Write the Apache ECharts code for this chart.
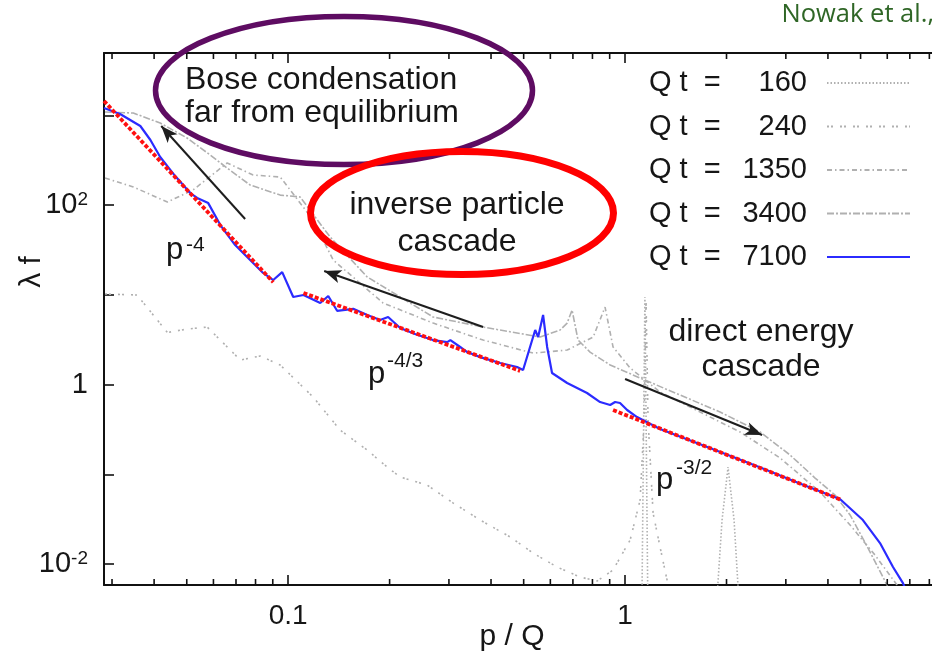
<!DOCTYPE html>
<html>
<head>
<meta charset="utf-8">
<script src="https://cdn.jsdelivr.net/npm/echarts@6/dist/echarts.min.js"></script>
<style>
  html, body { margin: 0; padding: 0; background: #fff; overflow: hidden; width: 932px; height: 657px; }
  /* the frame runs on past the right edge of the page, so the canvas is wider than the window */
  #chart { width: 1000px; height: 657px; }
</style>
</head>
<body>
<div id="chart"></div>
<script>
// Occupation-number spectra  λ f(p/Q)  at several times Qt  ([p/Q, λf] pairs)
const qt160 = [[1.12,0.002],[1.145,9.4],[1.17,0.002],[1.85,0.002],[1.94,0.0309],[2.021,0.1205],[2.106,0.0309],[2.2,0.002]];
const qt240 = [[0.0286,10.2],[0.0356,9.94],[0.0438,3.8],[0.0501,4.15],[0.0575,4.37],[0.0721,1.875],[0.0826,2.08],[0.0947,1.65],[0.1186,0.726],[0.1426,0.311],[0.1716,0.186],[0.1966,0.1205],[0.215,0.0931],[0.2585,0.0759],[0.309,0.0478],[0.3715,0.0309],[0.456,0.02],[0.533,0.01327],[0.628,0.00927],[0.735,0.00716],[0.826,0.00647],[0.921,0.00857],[1.035,0.0185],[1.108,0.0516],[1.139,0.402],[1.154,8.74],[1.17,0.402],[1.211,0.037],[1.27,0.01546],[1.332,0.00663],[1.41,0.003]];
const qt1350 = [[0.0286,200],[0.0347,159],[0.0438,108],[0.0522,147],[0.0659,294],[0.0787,216],[0.0947,205],[0.1014,147],[0.1186,67.9],[0.136,24.4],[0.1913,8.09],[0.2693,4.84],[0.379,3.13],[0.533,2.24],[0.673,2.42],[0.804,3.38],[0.872,7.3],[0.921,2.62],[1.035,1.527],[1.27,0.825],[1.67,0.494],[2.194,0.296],[2.884,0.152],[3.79,0.0634],[4.653,0.0272],[5.518,0.01259],[6.414,0.00584],[6.8,0.003]];
const qt3400 = [[0.0286,1087],[0.0347,1059],[0.0417,820],[0.0501,558],[0.0587,361],[0.0659,258],[0.0771,167],[0.0947,129],[0.1085,123],[0.1332,44],[0.1716,15.8],[0.215,9.44],[0.2693,5.65],[0.379,4.37],[0.478,3.75],[0.5597,3.38],[0.6414,4.05],[0.673,4.84],[0.696,6.76],[0.725,3.13],[0.787,2.3],[0.903,1.65],[1.108,1.181],[1.456,0.764],[1.914,0.494],[2.516,0.296],[3.087,0.164],[3.664,0.0908],[4.2,0.0587],[4.653,0.0352],[5.261,0.01507],[5.99,0.00584],[6.3,0.003]];
const qt7100 = [[0.0284,1205],[0.0317,1033],[0.0364,759],[0.039,530],[0.0417,343],[0.0462,210],[0.0512,136],[0.0537,120],[0.0579,105],[0.0629,59.8],[0.0696,35.8],[0.0771,24.4],[0.0837,17.9],[0.0903,14.6],[0.096,17.9],[0.1035,9.44],[0.111,9.94],[0.1245,8.09],[0.1315,9.68],[0.1397,6.63],[0.156,6.98],[0.1716,5.95],[0.1875,5.23],[0.198,5.65],[0.215,4.26],[0.238,3.65],[0.269,3.13],[0.2965,2.97],[0.303,3.13],[0.324,2.62],[0.34,2.3],[0.3715,2.02],[0.4256,1.736],[0.478,1.567],[0.498,1.45],[0.541,4.05],[0.552,3.38],[0.571,5.95],[0.587,2.62],[0.607,1.343],[0.673,1.04],[0.771,0.804],[0.843,0.638],[0.903,0.591],[0.934,0.638],[0.966,0.622],[1.014,0.52],[1.085,0.434],[1.27,0.319],[1.67,0.216],[2.52,0.119],[3.3,0.0788],[4.35,0.0527],[5.08,0.0309],[5.71,0.01713],[6.24,0.00927],[6.68,0.00614],[7.0,0.004]];

// Power-law fits (end points)
const fitP4  = [[0.0284,1442],[0.0903,13.8]];
const fitP43 = [[0.111,10.46],[0.488,1.42]];
const fitP32 = [[0.921,0.52],[4.40,0.0516]];

// Arrows: [tail, head] in (p/Q, λf)
const arrows = [
  [[0.0745,69.8],[0.042,759]],
  [[0.379,4.37],[0.1279,18.4]],
  [[1.0,1.152],[2.551,0.2738]]
];

const seriesNames = ['160','240','1350','3400','7100'];

// Axes
const xRange = [0.0284, 10];
const yRange = [0.00584, 4940];
const xTickValues = [0.1, 1];
const xTickLabels = ['0.1', '1'];
const yTickValues = [0.01, 1, 100];
const yTickLabels = ['10{sup|-2}', '1', '10{sup|2}'];
const xMinorTicks = [0.03,0.04,0.05,0.06,0.07,0.08,0.09,0.2,0.3,0.4,0.5,0.6,0.7,0.8,0.9,2,3,4,5,6,7,8,9];

const FONT = '"Liberation Sans", Arial, Helvetica, sans-serif';
const INK = '#161616';
const GRAY = '#b0b0b0';

function tickFormatter(values, labels) {
  return function (v) {
    for (let i = 0; i < values.length; i++) {
      if (Math.abs(Math.log10(v) - Math.log10(values[i])) < 1e-6) return labels[i];
    }
    return '';
  };
}

const axisLineStyle = { lineStyle: { color: '#111', width: 2 } };
const majorTick = { show: true, inside: true, length: 10, lineStyle: { color: '#111', width: 1.6 } };
const labelRich = { sup: { fontSize: 19, fontFamily: FONT, color: INK, verticalAlign: 'top', lineHeight: 19 } };

function grayLine(name, data, dash) {
  return {
    name, type: 'line', data, showSymbol: false, symbol: 'none', clip: true,
    lineStyle: { color: GRAY, width: 1.6, type: dash }, itemStyle: { color: GRAY },
    z: 2, silent: true
  };
}
function fitLine(data, extra) {
  return Object.assign({
    name: 'fit', type: 'line', data, showSymbol: false, symbol: 'none', clip: true,
    lineStyle: { color: '#ff1010', width: 3.8, type: [4, 2] }, z: 4, silent: true
  }, extra || {});
}

const chart = echarts.init(document.getElementById('chart'), null, { renderer: 'canvas' });

chart.setOption({
  animation: false,
  backgroundColor: '#fff',
  grid: { left: 104, top: 53, right: 38, bottom: 72 },
  xAxis: [
    {
      type: 'log', logBase: 10, min: xRange[0], max: xRange[1], position: 'bottom',
      axisLine: axisLineStyle, axisTick: majorTick, splitLine: { show: false }, minorTick: { show: false },
      axisLabel: { formatter: tickFormatter(xTickValues, xTickLabels), fontSize: 28, fontFamily: FONT, color: INK, margin: 17 }
    },
    {
      type: 'log', logBase: 10, min: xRange[0], max: xRange[1], position: 'top',
      axisLine: axisLineStyle, axisTick: majorTick, splitLine: { show: false }, axisLabel: { show: false }
    }
  ],
  yAxis: [
    {
      type: 'log', logBase: 10, min: yRange[0], max: yRange[1], position: 'left',
      axisLine: axisLineStyle, axisTick: majorTick, splitLine: { show: false },
      axisLabel: { formatter: tickFormatter(yTickValues, yTickLabels), fontSize: 29, fontFamily: FONT, color: INK, margin: 16, rich: labelRich }
    },
    {
      type: 'log', logBase: 10, min: yRange[0], max: yRange[1], position: 'right',
      axisLine: axisLineStyle, axisTick: majorTick, splitLine: { show: false }, axisLabel: { show: false }
    }
  ],
  legend: {
    data: seriesNames,
    orient: 'vertical', align: 'right', left: 649, top: 66, padding: 0,
    itemWidth: 83, itemHeight: 14, itemGap: 9.5,
    selectedMode: false,
    itemStyle: { opacity: 0 },
    formatter: name => '{a|Q t  =}{b|' + name + '}{c|}',
    textStyle: {
      fontSize: 29, fontFamily: FONT, color: INK, lineHeight: 34,
      rich: {
        a: { fontSize: 29, fontFamily: FONT, color: INK, width: 76, align: 'left', lineHeight: 34 },
        b: { fontSize: 29, fontFamily: FONT, color: INK, width: 82, align: 'right', lineHeight: 34 },
        c: { width: 15 }
      }
    }
  },
  series: [
    grayLine('160', qt160, [1.5, 2]),
    grayLine('240', qt240, [2, 2, 2, 7]),
    grayLine('1350', qt1350, [5, 3, 1.5, 3]),
    grayLine('3400', qt3400, [7, 2, 2, 2]),
    {
      name: '7100', type: 'line', data: qt7100, showSymbol: false, symbol: 'none', clip: true,
      lineStyle: { color: '#2b2bff', width: 2.2 }, itemStyle: { color: '#2b2bff' }, z: 3, silent: true
    },
    fitLine(fitP4, {
      markLine: {
        silent: true, symbol: ['none', 'arrow'], symbolSize: [10, 17],
        label: { show: false },
        lineStyle: { color: '#1e1e1e', width: 2, type: 'solid' },
        data: arrows.map(a => [{ coord: a[0] }, { coord: a[1] }])
      }
    }),
    fitLine(fitP43),
    fitLine(fitP32),
    {
      // minor ticks of the logarithmic p/Q axis (bottom and top)
      type: 'custom', silent: true, clip: false, z: 6,
      data: xMinorTicks.map(v => [v, yRange[0]]),
      renderItem: function (params, api) {
        const x = api.coord([api.value(0), yRange[0]])[0];
        const cs = params.coordSys;
        const st = { stroke: '#111', lineWidth: 1.6 };
        return {
          type: 'group', children: [
            { type: 'line', shape: { x1: x, y1: cs.y + cs.height, x2: x, y2: cs.y + cs.height - 6 }, style: st },
            { type: 'line', shape: { x1: x, y1: cs.y, x2: x, y2: cs.y + 6 }, style: st }
          ]
        };
      }
    }
  ],
  graphic: {
    elements: [
      { type: 'text', x: 934, y: 15, z: 20, style: { text: 'Nowak et al.,', fontSize: 25.5, fontFamily: '"Open Sans", Lato, sans-serif', fill: '#2f6626', textAlign: 'right', textVerticalAlign: 'middle' } },
      { type: 'ellipse', z: 20, shape: { cx: 344, cy: 90.5, rx: 188.5, ry: 74 }, style: { fill: 'none', stroke: '#5e0c62', lineWidth: 5.5 } },
      { type: 'ellipse', z: 20, shape: { cx: 462, cy: 213, rx: 151.5, ry: 61.5 }, style: { fill: 'none', stroke: '#ff0000', lineWidth: 7 } },
      { type: 'text', x: 185, y: 97, z: 21, style: { text: 'Bose condensation\nfar from equilibrium', fontSize: 32, lineHeight: 33, fontFamily: FONT, fill: INK, textAlign: 'left', textVerticalAlign: 'middle' } },
      { type: 'text', x: 457, y: 224, z: 21, style: { text: 'inverse particle\ncascade', fontSize: 32, lineHeight: 37, fontFamily: FONT, fill: INK, textAlign: 'center', textVerticalAlign: 'middle' } },
      { type: 'text', x: 761, y: 350, z: 21, style: { text: 'direct energy\ncascade', fontSize: 32, lineHeight: 35, fontFamily: FONT, fill: INK, textAlign: 'center', textVerticalAlign: 'middle' } },
      { type: 'text', x: 166, y: 250, z: 21, style: { text: 'p', fontSize: 31, fontFamily: FONT, fill: INK, textVerticalAlign: 'middle' } },
      { type: 'text', x: 186, y: 245, z: 21, style: { text: '-4', fontSize: 21, fontFamily: FONT, fill: INK, textVerticalAlign: 'middle' } },
      { type: 'text', x: 368, y: 374, z: 21, style: { text: 'p', fontSize: 31, fontFamily: FONT, fill: INK, textVerticalAlign: 'middle' } },
      { type: 'text', x: 387, y: 361, z: 21, style: { text: '-4/3', fontSize: 21, fontFamily: FONT, fill: INK, textVerticalAlign: 'middle' } },
      { type: 'text', x: 656, y: 480, z: 21, style: { text: 'p', fontSize: 31, fontFamily: FONT, fill: INK, textVerticalAlign: 'middle' } },
      { type: 'text', x: 676, y: 468, z: 21, style: { text: '-3/2', fontSize: 21, fontFamily: FONT, fill: INK, textVerticalAlign: 'middle' } },
      { type: 'text', x: 512, y: 637, z: 21, style: { text: 'p / Q', fontSize: 30, fontFamily: FONT, fill: INK, textAlign: 'center', textVerticalAlign: 'middle' } },
      { type: 'text', x: 32, y: 272, rotation: Math.PI / 2, z: 21, style: { text: 'λ f', fontSize: 30, fontFamily: FONT, fill: INK, textAlign: 'center', textVerticalAlign: 'middle' } }
    ]
  }
});
</script>
</body>
</html>
